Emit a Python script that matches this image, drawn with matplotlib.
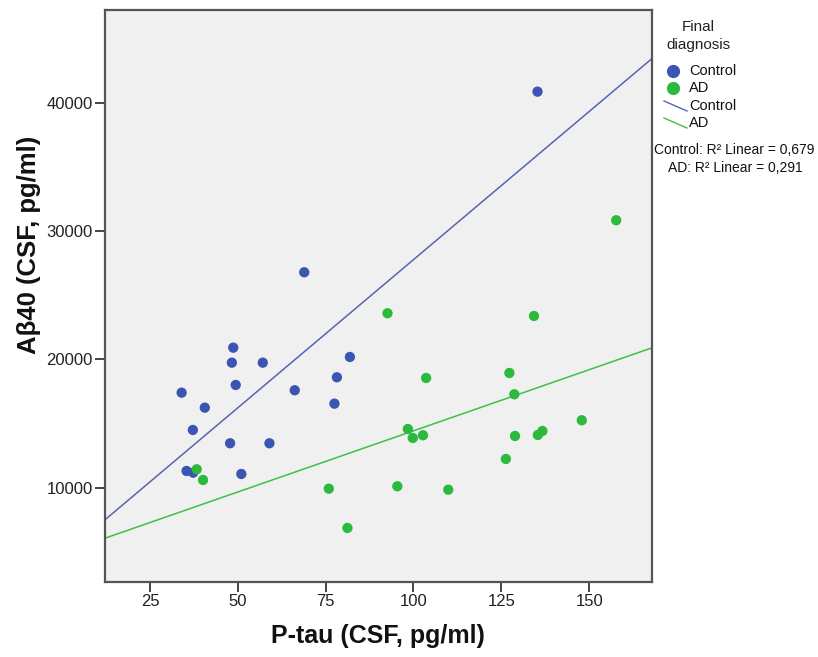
#!/usr/bin/env python3
"""Scatter of CSF Abeta40 against P-tau by final diagnosis, with linear fits."""

import matplotlib

matplotlib.use("Agg")
import matplotlib.pyplot as plt
import numpy as np
from matplotlib.lines import Line2D

plt.rcParams["font.family"] = ["Liberation Sans", "DejaVu Sans"]

GROUPS = ["Control", "AD"]
R2_LABELS = ["0,679", "0,291"]

control_ptau = [135.3, 68.9, 48.7, 48.3, 57.1, 49.4, 34.0, 66.2, 78.2, 81.9,
                40.6, 77.5, 37.2, 47.8, 59.0, 35.4, 37.3, 51.0]
control_ab40 = [40865, 26789, 20912, 19743, 19743, 18005, 17405, 17592, 18605, 20187,
                16235, 16547, 14497, 13461, 13461, 11302, 11169, 11068]

ad_ptau = [38.3, 40.1, 75.9, 81.2, 92.6, 134.3, 127.3, 103.6, 128.7, 147.9,
           98.4, 99.8, 102.7, 128.9, 135.4, 136.7, 126.3, 95.4, 109.9, 157.7]
ad_ab40 = [11434, 10600, 9922, 6859, 23593, 23383, 18940, 18550, 17280, 15253,
           14575, 13874, 14084, 14029, 14107, 14419, 12237, 10109, 9844, 30842]

X_TICKS = [25, 50, 75, 100, 125, 150]
Y_TICKS = [10000, 20000, 30000, 40000]

DOT_COLORS = ["#3b55b2", "#2cba3e"]
LINE_COLORS = ["#5565b5", "#3cc045"]


def main() -> None:
    fig = plt.figure(figsize=(8.18, 6.57), dpi=100)
    ax = fig.add_axes([0.1284, 0.1142, 0.6687, 0.8706])
    ax.set_facecolor("#f0f0f0")

    xlim = (12.2, 167.9)
    ylim = (2650, 47230)
    series = [(control_ptau, control_ab40), (ad_ptau, ad_ab40)]

    xs_line = np.array(xlim)
    for (x, y), lc in zip(series, LINE_COLORS):
        slope, intercept = np.polyfit(x, y, 1)
        ax.plot(xs_line, slope * xs_line + intercept, color=lc, linewidth=1.1, zorder=2)
    for (x, y), dc in zip(series, DOT_COLORS):
        ax.scatter(x, y, s=55, color=dc, edgecolors="none", zorder=3)

    ax.set_xlim(*xlim)
    ax.set_ylim(*ylim)
    ax.set_xticks(X_TICKS)
    ax.set_yticks(Y_TICKS)
    ax.set_xticklabels([str(t) for t in X_TICKS])
    ax.set_yticklabels([str(t) for t in Y_TICKS])
    ax.tick_params(direction="out", length=7, width=1.4, color="#444444",
                   labelsize=12, labelcolor="#222222", pad=2)
    for spine in ax.spines.values():
        spine.set_color("#555555")
        spine.set_linewidth(1.6)

    fig.text(378 / 818, 1 - 636 / 657, "P-tau (CSF, pg/ml)", fontsize=18,
             fontweight="bold", ha="center", va="center", color="#111111")
    fig.text(29 / 818, 1 - 245 / 657, "Aβ40 (CSF, pg/ml)", fontsize=18.5,
             fontweight="bold", ha="center", va="center", rotation=90, color="#111111")

    # legend, drawn by hand in figure pixels
    def fx(px):
        return px / 818

    def fy(py):
        return 1 - py / 657

    fig.text(fx(698), fy(27), "Final", fontsize=11, ha="center", va="center", color="#222222")
    fig.text(fx(698), fy(45), "diagnosis", fontsize=11, ha="center", va="center", color="#222222")
    for i, (name, dc, lc) in enumerate(zip(GROUPS, DOT_COLORS, LINE_COLORS)):
        y_dot = 71 + 17 * i
        fig.add_artist(Line2D([fx(673)], [fy(y_dot)], marker="o", markersize=9.5,
                              color=dc, markeredgewidth=0, linestyle="none"))
        fig.text(fx(689), fy(y_dot), name, fontsize=10.5, ha="left", va="center", color="#111111")
        y_line = 106 + 17 * i
        fig.add_artist(Line2D([fx(664), fx(687)], [fy(y_line - 5), fy(y_line + 5)],
                              color=lc, linewidth=1.0))
        fig.text(fx(689), fy(y_line), name, fontsize=10.5, ha="left", va="center", color="#111111")

    fig.text(fx(734), fy(150), f"Control: R² Linear = {R2_LABELS[0]}", fontsize=10,
             ha="center", va="center", color="#111111")
    fig.text(fx(735), fy(168), f"AD: R² Linear = {R2_LABELS[1]}", fontsize=10,
             ha="center", va="center", color="#111111")

    fig.savefig("out.png", dpi=100)
    plt.close(fig)


if __name__ == "__main__":
    main()
